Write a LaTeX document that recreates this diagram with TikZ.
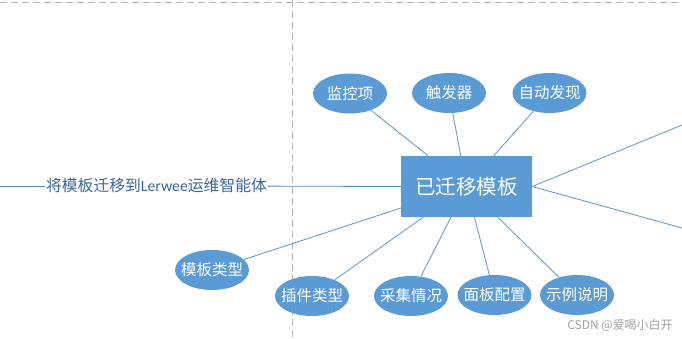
\documentclass[tikz,border=0pt]{standalone}
\usepackage{fontspec}
\newfontfamily\cjk{Noto Sans CJK SC}
\newfontfamily\lat{Carlito}
\usetikzlibrary{shapes.geometric}
\definecolor{leaf}{HTML}{5B9BD5}
\definecolor{wire}{HTML}{6A9FD6}
\definecolor{lbl}{HTML}{3C669A}
\definecolor{grid}{HTML}{B4B4B4}

\begin{document}
\begin{tikzpicture}[
  x=1pt, y=-1pt,
  font=\cjk,
  lf/.style={ellipse, fill=leaf, text=white, minimum width=74pt,
             minimum height=40pt, inner xsep=-6pt, inner ysep=0pt,
             font=\cjk\fontsize{15.5}{15.5}\selectfont},
  hub/.style={rectangle, fill=leaf, text=white, minimum width=131pt,
              minimum height=61pt, inner sep=0pt,
              font=\cjk\fontsize{20.5}{20.5}\selectfont},
  ln/.style={wire, line width=0.9pt},
]
\useasboundingbox (0,0) rectangle (682,339);
\fill[white] (0,0) rectangle (682,339);
% dashed frame lines
\draw[grid, line width=1pt, dash pattern=on 7pt off 4pt] (0,2.5) -- (682,2.5);
\draw[grid, line width=1pt, dash pattern=on 7pt off 4pt] (292,0) -- (292,339);

\node[hub] (box) at (466.5,186.5) {已迁移模板};

\node[lf] (mon) at (350,93.5) {监控项};
\node[lf] (trg) at (449,93) {触发器};
\node[lf] (dis) at (549.5,93) {自动发现};
\node[lf] (tpl) at (212,270) {模板类型};
\node[lf] (plg) at (312,296) {插件类型};
\node[lf] (col) at (411,296) {采集情况};
\node[lf] (pnl) at (494.5,295) {面板配置};
\node[lf] (exm) at (577,295) {示例说明};

\coordinate (lft) at (0,186);
\coordinate (ru) at (682,125);
\coordinate (rd) at (682,228);
\node[text=lbl, inner sep=0.5pt, font=\cjk\fontsize{15.8}{15.8}\selectfont]
  (tag) at (156.5,186) {将模板迁移到{\lat Lerwee}运维智能体};

\draw[ln, leaf!90!black] (lft) -- (tag);
\draw[ln, leaf!90!black] (tag) -- (box);
\foreach \n in {mon,trg,dis,tpl,plg,col,pnl,exm}
  \draw[ln] (\n) -- (box);
\draw[ln] (box.east) -- (ru);
\draw[ln] (box.east) -- (rd);

\node[text=grid!90!black, inner sep=0pt, font=\cjk\fontsize{12}{12}\selectfont]
  (wm) at (620,325) {CSDN @爱喝小白开};
\end{tikzpicture}
\end{document}
